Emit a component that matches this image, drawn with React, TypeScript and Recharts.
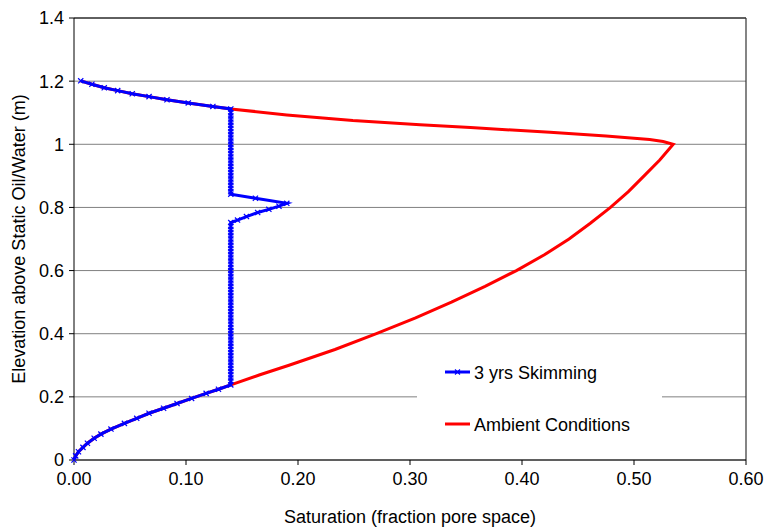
import React from "react";
import {
  ScatterChart,
  Scatter,
  XAxis,
  YAxis,
  CartesianGrid,
  ReferenceLine,
  Legend,
  Label,
} from "recharts";

// Capillary fringe below the residual zone (shared by both profiles)
const fringeSaturation = [
  0, 0.0015, 0.004, 0.008, 0.012, 0.018, 0.024, 0.033, 0.045, 0.056, 0.067,
  0.08, 0.092, 0.105, 0.118, 0.129, 0.14,
];
const fringeElevation = [
  0, 0.013, 0.026, 0.04, 0.053, 0.069, 0.082, 0.098, 0.116, 0.132, 0.148,
  0.164, 0.179, 0.195, 0.211, 0.224, 0.238,
];

// Ambient conditions: rising limb up to the peak at 1.0 m
const ambientRiseSaturation = [
  0.166, 0.192, 0.233, 0.27, 0.305, 0.337, 0.367, 0.395, 0.42, 0.442, 0.461,
  0.479, 0.495, 0.509, 0.523, 0.535,
];
const ambientRiseElevation = [
  0.27, 0.3, 0.35, 0.4, 0.45, 0.5, 0.55, 0.6, 0.65, 0.7, 0.75, 0.8, 0.85, 0.9,
  0.95, 1.0,
];
// Ambient conditions: falling limb from the peak back to the residual zone
const ambientFallSaturation = [0.526, 0.514, 0.475, 0.425, 0.354, 0.309, 0.249, 0.19];
const ambientFallElevation = [1.009, 1.015, 1.026, 1.038, 1.053, 1.062, 1.075, 1.093];

// Upper tail (shared by both profiles)
const tailSaturation = [0.14, 0.124, 0.102, 0.083, 0.067, 0.052, 0.039, 0.027, 0.016, 0.006];
const tailElevation = [1.112, 1.12, 1.131, 1.141, 1.151, 1.16, 1.17, 1.179, 1.19, 1.201];

// 3 yrs skimming: residual column at constant saturation
const skimColumnSaturation = 0.14;
const skimColumnLowElevation = [
  0.25, 0.26, 0.27, 0.28, 0.29, 0.3, 0.31, 0.32, 0.33, 0.34, 0.35, 0.36, 0.37,
  0.38, 0.39, 0.4, 0.41, 0.42, 0.43, 0.44, 0.45, 0.46, 0.47, 0.48, 0.49, 0.5,
  0.51, 0.52, 0.53, 0.54, 0.55, 0.56, 0.57, 0.58, 0.59, 0.6, 0.61, 0.62, 0.63,
  0.64, 0.65, 0.66, 0.67, 0.68, 0.69, 0.7, 0.71, 0.72, 0.73, 0.74, 0.752,
];
// spike of remaining product
const skimSpikeSaturation = [0.146, 0.154, 0.164, 0.174, 0.183, 0.19, 0.162, 0.14];
const skimSpikeElevation = [0.76, 0.771, 0.784, 0.794, 0.804, 0.813, 0.829, 0.842];
const skimColumnHighElevation = [
  0.85, 0.86, 0.87, 0.88, 0.89, 0.9, 0.91, 0.92, 0.93, 0.94, 0.95, 0.96, 0.97,
  0.98, 0.99, 1.0, 1.01, 1.02, 1.03, 1.04, 1.05, 1.06, 1.07, 1.08, 1.09, 1.1,
];

const xTicks = [0, 0.1, 0.2, 0.3, 0.4, 0.5, 0.6];
const yTicks = [0, 0.2, 0.4, 0.6, 0.8, 1, 1.2, 1.4];

const seriesNames = ["3 yrs Skimming", "Ambient Conditions"];
const BLUE = "#0000ff";
const RED = "#ff0000";
const FONT = "'Liberation Sans', Arial, sans-serif";

const zip = (xs: number[], ys: number[]) => xs.map((x, i) => ({ x, y: ys[i] }));

const ambientData = [
  ...zip(fringeSaturation, fringeElevation),
  ...zip(ambientRiseSaturation, ambientRiseElevation),
  ...zip(ambientFallSaturation, ambientFallElevation),
  ...zip(tailSaturation, tailElevation),
];
const skimmingData = [
  ...zip(fringeSaturation, fringeElevation),
  ...skimColumnLowElevation.map((y) => ({ x: skimColumnSaturation, y })),
  ...zip(skimSpikeSaturation, skimSpikeElevation),
  ...skimColumnHighElevation.map((y) => ({ x: skimColumnSaturation, y })),
  ...zip(tailSaturation, tailElevation),
];

const CrossMarker = (props: any) => {
  const { cx, cy } = props;
  if (cx == null || cy == null) return <g />;
  const r = 2.6;
  return (
    <path
      d={`M${cx - r},${cy - r}L${cx + r},${cy + r}M${cx - r},${cy + r}L${cx + r},${cy - r}`}
      stroke={BLUE}
      strokeWidth={1.2}
      fill="none"
    />
  );
};

const NoMarker = () => <g />;

const LegendBox = () => (
  <svg width={245} height={93} style={{ display: "block" }}>
    <rect x={0} y={0} width={245} height={93} fill="#ffffff" />
    <line x1={28} y1={20} x2={53} y2={20} stroke={BLUE} strokeWidth={3} />
    <path d="M38,17.5L43,22.5M38,22.5L43,17.5" stroke={BLUE} strokeWidth={1.2} />
    <text x={57} y={26.5} fontSize={18} fontFamily={FONT} fill="#000">
      {seriesNames[0]}
    </text>
    <line x1={28} y1={72} x2={53} y2={72} stroke={RED} strokeWidth={3} />
    <text x={57} y={78.5} fontSize={18} fontFamily={FONT} fill="#000">
      {seriesNames[1]}
    </text>
  </svg>
);

const YTitle = (props: any) => {
  const vb = props.viewBox || {};
  const cy = (vb.y ?? 0) + (vb.height ?? 0) / 2;
  const cx = 19;
  return (
    <text
      x={cx}
      y={cy}
      transform={`rotate(-90, ${cx}, ${cy})`}
      textAnchor="middle"
      dominantBaseline="central"
      fontSize={18}
      fontFamily={FONT}
      fill="#000"
    >
      Elevation above Static Oil/Water (m)
    </text>
  );
};

export default function App() {
  return (
    <div style={{ position: "absolute", left: 0, top: 0, background: "#fff" }}>
      <ScatterChart
        width={765}
        height={529}
        margin={{ top: 18, right: 19, bottom: 9, left: 0 }}
      >
        <CartesianGrid horizontal vertical={false} stroke="#808080" strokeWidth={1} />
        <XAxis
          type="number"
          dataKey="x"
          domain={[0, 0.6]}
          ticks={xTicks}
          tickFormatter={(v: number) => v.toFixed(2)}
          height={60}
          tickSize={5}
          tickMargin={7}
          stroke="#000"
          tick={{ fill: "#000", fontSize: 18, fontFamily: FONT }}
        >
          <Label
            value="Saturation (fraction pore space)"
            position="insideBottom"
            offset={-3}
            style={{ fill: "#000", fontSize: 18, fontFamily: FONT }}
          />
        </XAxis>
        <YAxis
          type="number"
          dataKey="y"
          domain={[0, 1.4]}
          ticks={yTicks}
          width={74}
          tickSize={5}
          tickMargin={5}
          stroke="#000"
          tick={{ fill: "#000", fontSize: 18, fontFamily: FONT }}
        >
          <Label content={<YTitle />} />
        </YAxis>
        <ReferenceLine y={1.4} stroke="#000" strokeWidth={1.2} />
        <ReferenceLine x={0.6} stroke="#333" strokeWidth={1.2} />
        <Scatter
          name={seriesNames[1]}
          data={ambientData}
          line={{ stroke: RED, strokeWidth: 3 }}
          lineType="joint"
          shape={<NoMarker />}
          fill={RED}
          isAnimationActive={false}
        />
        <Scatter
          name={seriesNames[0]}
          data={skimmingData}
          line={{ stroke: BLUE, strokeWidth: 3 }}
          lineType="joint"
          shape={<CrossMarker />}
          fill={BLUE}
          isAnimationActive={false}
        />
        <Legend
          layout="horizontal"
          verticalAlign="middle"
          align="center"
          content={<LegendBox />}
          wrapperStyle={{ position: "absolute", left: 417, top: 352, width: 245, height: 93 }}
        />
      </ScatterChart>
    </div>
  );
}
